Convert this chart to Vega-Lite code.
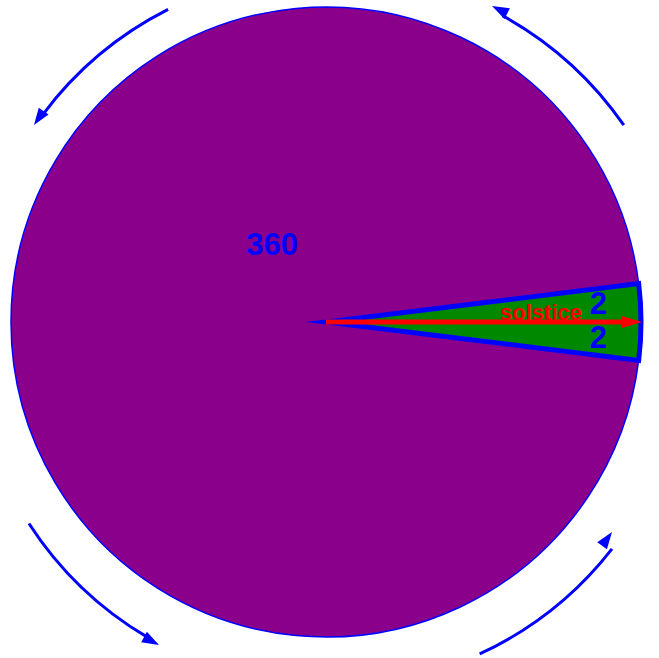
{
  "$schema": "https://vega.github.io/schema/vega-lite/v6.json",
  "width": 659,
  "height": 658,
  "padding": 0,
  "autosize": {"type": "none"},
  "background": "white",
  "config": {"view": {"stroke": null}},
  "datasets": {
    "slices": [
      {"slice": "360", "value": 360, "start": 97, "end": 443},
      {"slice": "2a", "value": 2, "start": 83, "end": 90},
      {"slice": "2b", "value": 2, "start": 90, "end": 97}
    ],
    "solstice": [{"label": "solstice", "from": 0, "to": 316}],
    "arrows": [
      {"dir": "NW", "from": 333.2, "to": 306.8, "tipX": -292, "tipY": 197, "heading": 124.6},
      {"dir": "NE", "from": 55.3, "to": 28.9, "tipX": 166, "tipY": 316, "heading": 206.7},
      {"dir": "SW", "from": 237.1, "to": 210.6, "tipX": -167, "tipY": -323, "heading": 28.4},
      {"dir": "SE", "from": 155.2, "to": 127.9, "tipX": 286, "tipY": -210, "heading": 305.7}
    ]
  },
  "layer": [
    {
      "data": {"name": "slices"},
      "transform": [{"filter": "datum.value == 360"}],
      "mark": {"type": "arc", "radius": 315, "fill": "#8B008B", "stroke": "#0000FF", "strokeWidth": 1.5, "xOffset": -3.5, "yOffset": -7},
      "encoding": {
        "theta": {"field": "start", "type": "quantitative", "stack": null, "scale": {"domain": [0, 360], "range": [0, 6.283185307179586]}},
        "theta2": {"field": "end"}
      }
    },
    {
      "data": {"name": "slices"},
      "transform": [{"filter": "datum.value == 2"}],
      "mark": {"type": "arc", "radius": 315, "fill": "#008800", "xOffset": -3.5, "yOffset": -7},
      "encoding": {
        "theta": {"field": "start", "type": "quantitative", "stack": null, "scale": {"domain": [0, 360], "range": [0, 6.283185307179586]}},
        "theta2": {"field": "end"}
      }
    },
    {
      "data": {"name": "slices"},
      "transform": [
        {"filter": "datum.value == 2"},
        {"aggregate": [{"op": "min", "field": "start", "as": "start"}, {"op": "max", "field": "end", "as": "end"}]}
      ],
      "mark": {"type": "arc", "radius": 315, "fill": null, "fillOpacity": 0, "stroke": "#0000FF", "strokeWidth": 5, "strokeJoin": "miter", "strokeMiterLimit": 20, "xOffset": -3.5, "yOffset": -7},
      "encoding": {
        "theta": {"field": "start", "type": "quantitative", "stack": null, "scale": {"domain": [0, 360], "range": [0, 6.283185307179586]}},
        "theta2": {"field": "end"}
      }
    },
    {
      "data": {"name": "solstice"},
      "mark": {"type": "rule", "color": "#FF0000", "strokeWidth": 5, "x2Offset": -12},
      "encoding": {
        "x": {"field": "from", "type": "quantitative", "scale": {"domain": [-326, 333], "nice": false, "zero": false}, "axis": null},
        "x2": {"field": "to"},
        "y": {"datum": 0, "type": "quantitative", "scale": {"domain": [-336, 322], "nice": false, "zero": false}, "axis": null}
      }
    },
    {
      "data": {"name": "solstice"},
      "mark": {"type": "point", "shape": "M0,0L-2,-0.6L-2,0.6Z", "size": 400, "filled": true, "color": "#FF0000", "opacity": 1, "strokeWidth": 0},
      "encoding": {
        "x": {"field": "to", "type": "quantitative", "scale": {"domain": [-326, 333], "nice": false, "zero": false}, "axis": null},
        "y": {"datum": 0, "type": "quantitative", "scale": {"domain": [-336, 322], "nice": false, "zero": false}, "axis": null}
      }
    },
    {
      "data": {"name": "solstice"},
      "mark": {"type": "text", "radius": 256, "align": "right", "baseline": "alphabetic", "dx": -3.5, "dy": -9, "font": "Liberation Sans", "fontWeight": "bold", "fontSize": 22, "color": "#FF0000"},
      "encoding": {
        "text": {"field": "label"},
        "theta": {"datum": 90, "type": "quantitative", "stack": null, "scale": {"domain": [0, 360], "range": [0, 6.283185307179586]}}
      }
    },
    {
      "data": {"name": "slices"},
      "transform": [{"filter": "datum.value == 360"}],
      "mark": {"type": "text", "radius": 93, "align": "center", "baseline": "middle", "dx": -3.5, "dy": -7, "font": "Liberation Sans", "fontWeight": "bold", "fontSize": 31, "color": "#0000FF"},
      "encoding": {
        "text": {"field": "value"},
        "theta": {"datum": 324.6, "type": "quantitative", "stack": null, "scale": {"domain": [0, 360], "range": [0, 6.283185307179586]}}
      }
    },
    {
      "data": {"name": "slices"},
      "transform": [{"filter": "datum.value == 2"}],
      "mark": {"type": "text", "radius": 273, "thetaOffset": 0.0611, "align": "center", "baseline": "middle", "dx": -3.5, "dy": -7, "font": "Liberation Sans", "fontWeight": "bold", "fontSize": 31, "color": "#0000FF"},
      "encoding": {
        "text": {"field": "value"},
        "theta": {"field": "start", "type": "quantitative", "stack": null, "scale": {"domain": [0, 360], "range": [0, 6.283185307179586]}}
      }
    },
    {
      "data": {"name": "arrows"},
      "mark": {"type": "arc", "radius": 359.5, "radius2": 356.5, "fill": "#0000FF"},
      "encoding": {
        "theta": {"field": "from", "type": "quantitative", "stack": null, "scale": {"domain": [0, 360], "range": [0, 6.283185307179586]}},
        "theta2": {"field": "to"}
      }
    },
    {
      "data": {"name": "arrows"},
      "mark": {"type": "point", "shape": "M0,0L-2,-0.7L-2,0.7Z", "size": 289, "filled": true, "color": "#0000FF", "opacity": 1, "strokeWidth": 0},
      "encoding": {
        "x": {"field": "tipX", "type": "quantitative", "scale": {"domain": [-326, 333], "nice": false, "zero": false}, "axis": null},
        "y": {"field": "tipY", "type": "quantitative", "scale": {"domain": [-336, 322], "nice": false, "zero": false}, "axis": null},
        "angle": {"field": "heading", "type": "quantitative", "scale": null}
      }
    }
  ]
}
